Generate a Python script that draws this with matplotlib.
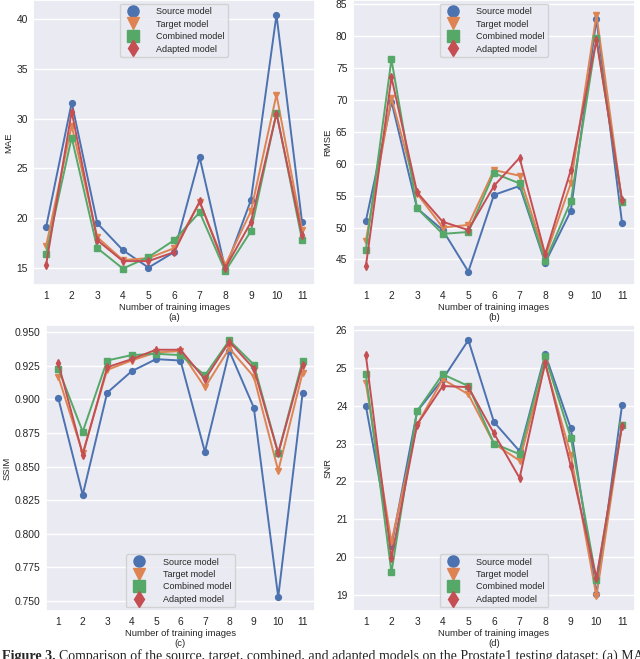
import matplotlib
matplotlib.use("Agg")
import matplotlib.pyplot as plt
from matplotlib.lines import Line2D
import seaborn as sns

sns.set_theme(style="darkgrid")
plt.rcParams["font.family"] = ["Liberation Sans", "DejaVu Sans"]

images = list(range(1, 12))
models = ["Source model", "Target model", "Combined model", "Adapted model"]
colors = ["#4C72B0", "#DD8452", "#55A868", "#C44E52"]
markers = ["o", "v", "s", "d"]

mae_source = [19.1, 31.6, 19.5, 16.8, 15.05, 16.6, 26.1, 14.9, 21.8, 40.4, 19.6]
mae_target = [17.2, 29.3, 18.1, 15.8, 16.0, 17.0, 21.6, 15.3, 20.7, 32.4, 18.8]
mae_combined = [16.4, 28.1, 17.0, 14.95, 16.1, 17.8, 20.6, 14.7, 18.7, 30.6, 17.8]
mae_adapted = [15.3, 30.7, 17.8, 15.7, 15.7, 16.6, 21.7, 15.0, 19.6, 30.5, 18.3]

rmse_source = [51.0, 69.7, 53.0, 49.6, 43.1, 55.1, 56.5, 44.5, 52.6, 82.6, 50.7]
rmse_target = [47.9, 70.3, 55.3, 50.0, 50.4, 59.0, 58.1, 45.4, 56.9, 83.3, 54.0]
rmse_combined = [46.5, 76.3, 53.0, 49.0, 49.3, 58.5, 56.9, 44.7, 54.1, 79.6, 54.0]
rmse_adapted = [43.9, 73.5, 55.5, 50.9, 49.6, 56.5, 60.9, 45.8, 59.0, 79.3, 54.3]

ssim_source = [0.901, 0.829, 0.905, 0.921, 0.930, 0.929, 0.861, 0.936, 0.894, 0.753, 0.905]
ssim_target = [0.917, 0.860, 0.922, 0.929, 0.935, 0.936, 0.909, 0.938, 0.917, 0.847, 0.920]
ssim_combined = [0.923, 0.876, 0.929, 0.933, 0.934, 0.933, 0.918, 0.944, 0.926, 0.860, 0.929]
ssim_adapted = [0.927, 0.859, 0.924, 0.930, 0.937, 0.937, 0.915, 0.943, 0.923, 0.860, 0.926]

snr_source = [24.0, 20.3, 23.85, 24.7, 25.73, 23.57, 22.8, 25.36, 23.4, 19.03, 24.02]
snr_target = [24.6, 20.4, 23.5, 24.7, 24.3, 23.0, 22.55, 25.1, 22.7, 18.97, 23.5]
snr_combined = [24.83, 19.6, 23.86, 24.83, 24.52, 23.0, 22.72, 25.3, 23.15, 19.4, 23.5]
snr_adapted = [25.34, 19.98, 23.5, 24.52, 24.49, 23.27, 22.09, 25.14, 22.4, 19.45, 23.47]

panels = [
    ("MAE", "(a)", [mae_source, mae_target, mae_combined, mae_adapted],
     (13.3, 41.9), [15, 20, 25, 30, 35, 40], "{:.0f}", "upper center",
     [0.052, 0.5675, 0.44, 0.4325]),
    ("RMSE", "(b)", [rmse_source, rmse_target, rmse_combined, rmse_adapted],
     (41.0, 85.6), [45, 50, 55, 60, 65, 70, 75, 80, 85], "{:.0f}", "upper center",
     [0.5516, 0.5675, 0.4404, 0.4325]),
    ("SSIM", "(c)", [ssim_source, ssim_target, ssim_combined, ssim_adapted],
     (0.7426, 0.9554), [0.750, 0.775, 0.800, 0.825, 0.850, 0.875, 0.900, 0.925, 0.950],
     "{:.3f}", "lower center", [0.072, 0.0728, 0.42, 0.434]),
    ("SNR", "(d)", [snr_source, snr_target, snr_combined, snr_adapted],
     (18.58, 26.13), [19, 20, 21, 22, 23, 24, 25, 26], "{:.0f}", "lower center",
     [0.5516, 0.0728, 0.4404, 0.434]),
]

FS = 6.8

fig = plt.figure(figsize=(6.4, 6.59), dpi=100)

for ylabel, tag, series, ylim, yticks, fmt, loc, rect in panels:
    ax = fig.add_axes(rect)
    xs = range(len(images))
    for vals, c, m in zip(series, colors, markers):
        ax.plot(xs, vals, color=c, marker=m, markersize=4.2, linewidth=1.4)
    ax.set_xlim(-0.5, len(images) - 0.5)
    ax.set_xticks(list(xs))
    ax.set_xticklabels([str(i) for i in images])
    ax.set_ylim(*ylim)
    ax.set_yticks(yticks)
    ax.set_yticklabels([fmt.format(t) for t in yticks])
    ax.xaxis.grid(False)
    ax.tick_params(labelsize=FS + 0.6, length=0, pad=4)
    ax.set_ylabel(ylabel, fontsize=FS, labelpad=2.5)
    ax.set_xlabel("Number of training images\n" + tag, fontsize=FS,
                  labelpad=2, linespacing=1.15)
    handles = [Line2D([], [], color=c, marker=m, linestyle="", markersize=8)
               for c, m in zip(colors, markers)]
    ax.legend(handles, models, loc=loc, fontsize=6.5, frameon=True,
              borderaxespad=0.4, handletextpad=1.6, labelspacing=0.38)

renderer = fig.canvas.get_renderer()
t1 = fig.text(0.003, -0.0015, "Figure 3.", fontsize=10.2, fontweight="bold",
              family=["Liberation Serif"], va="baseline")
bb = t1.get_window_extent(renderer=renderer)
x2 = (bb.x1 + 3) / fig.bbox.width
fig.text(x2, -0.0015,
         "Comparison of the source, target, combined, and adapted models on "
         "the Prostate1 testing dataset: (a) MAE",
         fontsize=10, family=["Liberation Serif"], va="baseline")

fig.savefig("out.png", dpi=100)
plt.close(fig)
